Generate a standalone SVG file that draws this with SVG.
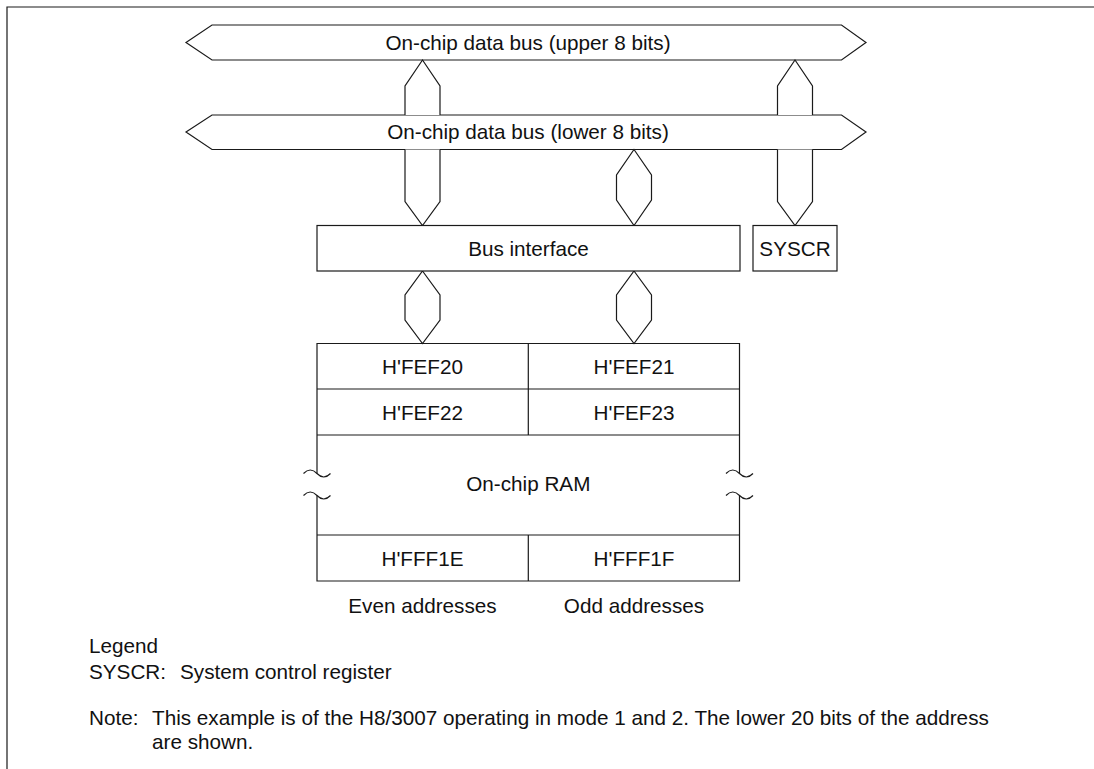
<svg xmlns="http://www.w3.org/2000/svg" width="1094" height="769" viewBox="0 0 1094 769">
<style>
.s{fill:#fff;stroke:#1a1a1a;stroke-width:1.2;stroke-linejoin:miter}
.l{fill:none;stroke:#1a1a1a;stroke-width:1.2}
.t{font-family:"Liberation Sans",Arial,sans-serif;font-size:20.7px;fill:#111}
.c{text-anchor:middle}
</style>
<rect width="1094" height="769" fill="#fff"/>
<g id="frame"><path class="l" d="M7,769 V7 H1094" stroke-width="1.6"/></g>
<g id="bus-upper">
<polygon class="s" points="186,42.5 212,25 841.5,25 866,42.5 841.5,60 212,60"/>
<text class="t c" x="528" y="49.5">On-chip data bus (upper 8 bits)</text>
</g>
<g id="bus-lower">
<polygon class="s" points="186,132 212,115 841.5,115 866,132 841.5,149.5 212,149.5"/>
<text class="t c" x="528" y="139">On-chip data bus (lower 8 bits)</text>
</g>
<g id="connectors">
<path class="s" d="M405,115 V86 L422.5,60 L440,86 V115"/>
<path class="s" d="M405,149.5 V201.5 L422.5,225.5 L440,201.5 V149.5"/>
<path class="s" d="M777.5,115 V86 L795,60 L812.5,86 V115"/>
<path class="s" d="M777.5,149.5 V201.5 L795,225.5 L812.5,201.5 V149.5"/>
<polygon class="s" points="634,149.5 651.5,175 651.5,200 634,225.5 616.5,200 616.5,175"/>
<polygon class="s" points="422.5,271 440,295 440,320 422.5,343.5 405,320 405,295"/>
<polygon class="s" points="634,271 651.5,295 651.5,320 634,343.5 616.5,320 616.5,295"/>
</g>
<g id="bus-interface">
<rect class="s" x="317" y="225.5" width="423" height="45.5"/>
<text class="t c" x="528.5" y="255.5">Bus interface</text>
</g>
<g id="syscr">
<rect class="s" x="753" y="225.5" width="84" height="45.5"/>
<text class="t c" x="795" y="255.5">SYSCR</text>
</g>
<g id="ram">
<path class="l" d="M317,473.5 V343.5 H739.5 V473.5 M317,495.5 V581 H739.5 V495.5 M317,389 H739.5 M317,435 H739.5 M317,535 H739.5 M528.3,343.5 V435 M528.3,535 V581"/>
<path class="l" d="M303.5,473.5 q6.75,-7 13.5,0 t13.5,0 M303.5,495.5 q6.75,-7 13.5,0 t13.5,0 M726,473.5 q6.75,-7 13.5,0 t13.5,0 M726,495.5 q6.75,-7 13.5,0 t13.5,0"/>
<text class="t c" x="422.5" y="373.5">H'FEF20</text>
<text class="t c" x="634" y="373.5">H'FEF21</text>
<text class="t c" x="422.5" y="419.5">H'FEF22</text>
<text class="t c" x="634" y="419.5">H'FEF23</text>
<text class="t c" x="528.3" y="490.5">On-chip RAM</text>
<text class="t c" x="422.5" y="565.5">H'FFF1E</text>
<text class="t c" x="634" y="565.5">H'FFF1F</text>
<text class="t c" x="422.5" y="613">Even addresses</text>
<text class="t c" x="634" y="613">Odd addresses</text>
</g>
<g id="legend">
<text class="t" x="89" y="653">Legend</text>
<text class="t" x="89" y="679">SYSCR:</text>
<text class="t" x="180" y="679">System control register</text>
<text class="t" x="89" y="725">Note:</text>
<text class="t" x="152" y="725">This example is of the H8/3007 operating in mode 1 and 2. The lower 20 bits of the address</text>
<text class="t" x="152" y="749">are shown.</text>
</g>
</svg>
